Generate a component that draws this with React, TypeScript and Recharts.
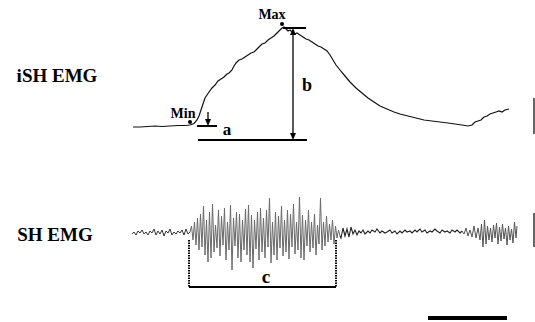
import React from "react";
import { ComposedChart, Line, XAxis, YAxis, ReferenceLine, ReferenceDot } from "recharts";

// iSH EMG (integrated) trace: time (px-scale units) and level (inverted amplitude units)
const ishTime = [133, 140, 148, 155, 162, 170, 178, 185, 190, 194, 197, 199, 201, 203, 205, 207, 209, 212, 215, 218, 221, 224, 227, 229, 232, 234, 236, 239, 242, 245, 248, 251, 254, 257, 260, 262, 265, 268, 271, 274, 277, 280, 282, 284, 286, 288, 290, 292, 295, 297, 300, 303, 306, 309, 312, 315, 318, 321, 324, 327, 330, 333, 336, 340, 345, 350, 356, 362, 368, 374, 380, 387, 394, 400, 408, 416, 424, 432, 440, 448, 455, 462, 468, 472, 475, 478, 481, 484, 487, 490, 493, 496, 499, 502, 505, 509];
const ishLevel = [127, 127, 126.5, 126, 126.5, 126, 125.5, 125.5, 125, 123.5, 120, 116, 110, 104, 98, 95, 92, 88, 85, 81, 79, 77, 74, 73, 70, 66, 63, 60, 59, 57, 55, 53, 52, 49, 46, 44, 43, 40, 38, 36, 33, 30, 28, 27, 29, 31, 30, 32, 34, 33, 35, 37, 39, 40, 42, 44, 46, 47, 49, 51, 55, 60, 65, 70, 76, 82, 88, 93, 98, 102, 106, 109, 112, 114, 116, 118, 120, 121, 122, 123, 124, 125, 126, 125, 122, 121, 120, 117, 116, 114, 113, 112, 111, 112, 110, 109];

// SH EMG raw trace, split into segments
const shPreTime = [132, 134, 136, 138, 140, 142, 144, 146, 148, 150, 152, 154, 156, 158, 160, 162, 164, 166, 168, 170, 172, 174, 176, 178, 180, 182, 184, 186, 188, 190];
const shPreLevel = [234, 232, 235, 231, 233, 230, 234, 232, 235, 231, 233, 229, 235, 231, 234, 230, 236, 231, 233, 229, 235, 232, 234, 231, 233, 230, 235, 229, 234, 232];

const shBurstTime = [190, 191.5, 193, 194.5, 196, 197.5, 199, 200.5, 202, 203.5, 205, 206.5, 208, 209.5, 211, 212.5, 214, 215.5, 217, 218.5, 220, 221.5, 223, 224.5, 226, 227.5, 229, 230.5, 232, 233.5, 235, 236.5, 238, 239.5, 241, 242.5, 244, 245.5, 247, 248.5, 250, 251.5, 253, 254.5, 256, 257.5, 259, 260.5, 262, 263.5, 265, 266.5, 268, 269.5, 271, 272.5, 274, 275.5, 277, 278.5, 280, 281.5, 283, 284.5, 286, 287.5, 289, 290.5, 292, 293.5, 295, 296.5, 298, 299.5, 301, 302.5, 304, 305.5, 307, 308.5, 310, 311.5, 313, 314.5, 316, 317.5, 319, 320.5, 322, 323.5, 325, 326.5, 328, 329.5, 331, 332.5, 334, 335.5, 337, 338.5, 340];
const shBurstLevel = [232, 226, 240, 222, 245, 218, 250, 214, 247, 206, 255, 220, 262, 212, 258, 204, 252, 225, 248, 210, 256, 216, 245, 208, 260, 222, 250, 205, 270, 218, 246, 212, 258, 214, 262, 220, 250, 209, 255, 205, 262, 215, 268, 220, 249, 212, 260, 208, 252, 218, 258, 210, 247, 198, 263, 222, 255, 212, 260, 216, 248, 206, 256, 220, 252, 210, 259, 214, 247, 204, 254, 222, 250, 197, 258, 215, 260, 220, 246, 210, 252, 222, 248, 214, 255, 225, 244, 198, 250, 222, 246, 216, 242, 224, 240, 220, 244, 226, 238, 230, 236];

const shMidTime = [340, 341, 343, 345, 347, 349, 351, 353, 355, 357, 359, 361, 363, 365, 368, 370, 372, 375, 377, 380, 382, 385, 387, 390, 392, 395, 397, 400, 402, 405, 407, 410, 412, 415, 417, 420, 422, 425, 427, 430, 432, 435, 437, 440, 442, 445, 447, 450, 452, 455, 457, 460, 462];
const shMidLevel = [236, 238, 228, 236, 229, 237, 227, 234, 230, 235, 231, 233, 230, 234, 231, 233, 230, 232, 229, 233, 231, 233, 232, 230, 233, 231, 234, 231, 233, 230, 232, 231, 233, 230, 232, 229, 232, 230, 233, 231, 232, 229, 231, 233, 230, 232, 231, 233, 230, 232, 230, 233, 231];

const shEndTime = [462, 464, 466, 468, 470, 472, 474, 476, 478, 480, 481.5, 483, 484.5, 486, 487.5, 489, 490.5, 492, 493.5, 495, 496.5, 498, 499.5, 501, 502.5, 504, 505.5, 507, 508.5, 510, 511.5, 513, 514.5, 516, 517];
const shEndLevel = [231, 234, 228, 236, 230, 237, 226, 238, 228, 240, 224, 247, 220, 244, 226, 240, 228, 242, 225, 238, 223, 244, 227, 241, 224, 239, 228, 245, 226, 240, 229, 243, 222, 238, 226];

// annotation segments [t1, v1, t2, v2]
const solidSegments = [
  [283, 28, 306, 28],   // peak level
  [198, 140, 307, 140], // baseline level
  [197, 126, 217, 126], // min level
  [189, 287, 336, 287], // c bracket
];
const thinSegments = [
  [293, 30, 293, 138], // b arrow shaft
  [208, 112, 208, 122], // a arrow shaft
];
const dottedSegments = [
  [189, 240, 189, 287],
  [336, 240, 336, 287],
];
const scaleBars = [
  [534, 98, 534, 134],
  [534, 213, 534, 247],
];
const timeBar = [428, 318, 507, 318];

const arrowUp = [[293, 28]];
const arrowDown = [[293, 140], [208, 126]];
const markerDots = [[190, 122], [282, 24]];

const labelTexts = ["iSH EMG", "SH EMG", "Max", "Min", "a", "b", "c"];
const labelTime = [57, 55, 272, 183, 227, 307, 266];
const labelLevel = [75, 234, 14, 113, 129, 85, 276];
const labelSize = [19, 19, 14, 14, 17, 18, 19];

const toPts = (t: number[], v: number[]) => t.map((x, i) => ({ t: x, v: v[i] }));

const FONT = "'Liberation Serif', 'DejaVu Serif', serif";

const lineCommon = {
  dataKey: "v",
  type: "linear" as const,
  dot: false,
  activeDot: false,
  isAnimationActive: false,
};

export default function App() {
  return (
    <div style={{ position: "absolute", left: 0, top: 0, width: 535, height: 322, background: "#fff" }}>
      <ComposedChart width={535} height={322} margin={{ top: 0, right: 0, bottom: 0, left: 0 }}>
        <XAxis type="number" dataKey="t" domain={[0, 535]} hide allowDataOverflow />
        <YAxis type="number" dataKey="v" domain={[0, 322]} reversed hide allowDataOverflow />
        <Line {...lineCommon} data={toPts(ishTime, ishLevel)} stroke="#111" strokeWidth={1.2} />
        <Line {...lineCommon} data={toPts(shPreTime, shPreLevel)} stroke="#333" strokeWidth={1} />
        <Line {...lineCommon} data={toPts(shBurstTime, shBurstLevel)} stroke="#6a6a6a" strokeWidth={1} />
        <Line {...lineCommon} data={toPts(shMidTime, shMidLevel)} stroke="#222" strokeWidth={1.1} />
        <Line {...lineCommon} data={toPts(shEndTime, shEndLevel)} stroke="#555" strokeWidth={1} />
        {solidSegments.map((s, i) => (
          <ReferenceLine key={"s" + i} segment={[{ x: s[0], y: s[1] }, { x: s[2], y: s[3] }]} stroke="#000" strokeWidth={2} ifOverflow="visible" />
        ))}
        {thinSegments.map((s, i) => (
          <ReferenceLine key={"t" + i} segment={[{ x: s[0], y: s[1] }, { x: s[2], y: s[3] }]} stroke="#000" strokeWidth={1.3} ifOverflow="visible" />
        ))}
        {dottedSegments.map((s, i) => (
          <ReferenceLine key={"d" + i} segment={[{ x: s[0], y: s[1] }, { x: s[2], y: s[3] }]} stroke="#000" strokeWidth={2} strokeDasharray="1.5 1" ifOverflow="visible" />
        ))}
        {scaleBars.map((s, i) => (
          <ReferenceLine key={"b" + i} segment={[{ x: s[0], y: s[1] }, { x: s[2], y: s[3] }]} stroke="#333" strokeWidth={1.5} ifOverflow="visible" />
        ))}
        <ReferenceLine segment={[{ x: timeBar[0], y: timeBar[1] }, { x: timeBar[2], y: timeBar[3] }]} stroke="#000" strokeWidth={4} ifOverflow="visible" />
        {arrowUp.map((p, i) => (
          <ReferenceDot key={"au" + i} x={p[0]} y={p[1]} r={1} ifOverflow="visible"
            shape={(props: any) => <polygon points={`${props.cx},${props.cy} ${props.cx - 3},${props.cy + 7} ${props.cx + 3},${props.cy + 7}`} fill="#000" />} />
        ))}
        {arrowDown.map((p, i) => (
          <ReferenceDot key={"ad" + i} x={p[0]} y={p[1]} r={1} ifOverflow="visible"
            shape={(props: any) => <polygon points={`${props.cx},${props.cy} ${props.cx - 3},${props.cy - 7} ${props.cx + 3},${props.cy - 7}`} fill="#000" />} />
        ))}
        {markerDots.map((p, i) => (
          <ReferenceDot key={"m" + i} x={p[0]} y={p[1]} r={2} fill="#000" stroke="none" ifOverflow="visible" />
        ))}
        {labelTexts.map((txt, i) => (
          <ReferenceDot key={"l" + i} x={labelTime[i]} y={labelLevel[i]} r={1} ifOverflow="visible"
            shape={(props: any) => (
              <text x={props.cx} y={props.cy} textAnchor="middle" dominantBaseline="central"
                fontFamily={FONT} fontWeight="bold" fontSize={labelSize[i]} fill="#000">{txt}</text>
            )} />
        ))}
      </ComposedChart>
    </div>
  );
}
